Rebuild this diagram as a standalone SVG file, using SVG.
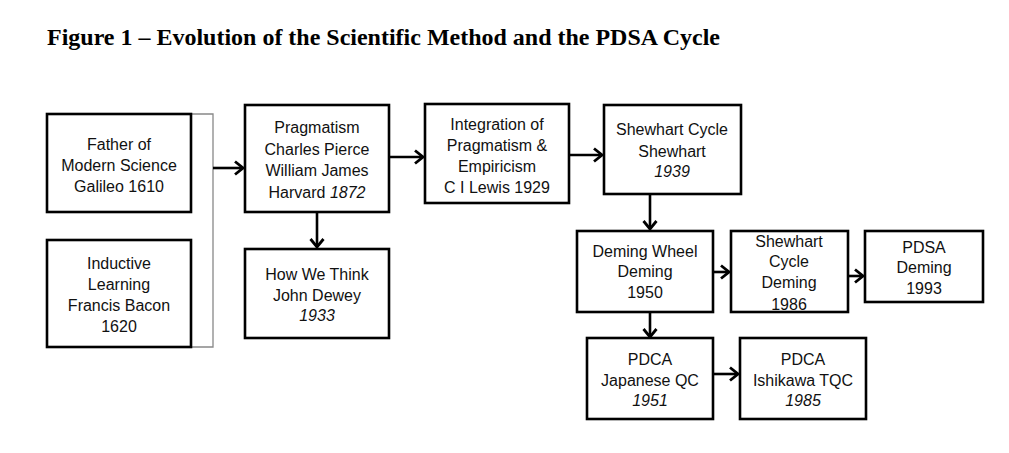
<svg xmlns="http://www.w3.org/2000/svg" width="1009" height="453" viewBox="0 0 1009 453">
<style>
.box{fill:#fff;stroke:#000;stroke-width:2.6}
.t{font-family:"Liberation Sans",Arial,sans-serif;font-size:16px;fill:#111;text-anchor:middle}
.i{font-style:italic}
.title{font-family:"Liberation Serif","Times New Roman",serif;font-weight:bold;font-size:23px;fill:#000}
.c{fill:none;stroke:#000;stroke-width:2.6}
</style>
<defs>
<marker id="ah" markerUnits="userSpaceOnUse" viewBox="0 0 12 16" refX="10" refY="8" markerWidth="12" markerHeight="16" orient="auto">
<path d="M2,1.5 L10,8 L2,14.5" fill="none" stroke="#000" stroke-width="2.8"/>
</marker>
</defs>
<rect width="1009" height="453" fill="#fff"/>
<text class="title" x="47" y="45" textLength="673" lengthAdjust="spacingAndGlyphs">Figure 1 – Evolution of the Scientific Method and the PDSA Cycle</text>

<g id="connectors">
<path d="M191,114 H213 V347 H191" fill="none" stroke="#888" stroke-width="1.3"/>
<line class="c" x1="213" y1="168" x2="243" y2="168" stroke-width="3.2" marker-end="url(#ah)"/>
<line class="c" x1="317" y1="212" x2="317" y2="247" marker-end="url(#ah)"/>
<line class="c" x1="389" y1="157" x2="423" y2="157" marker-end="url(#ah)"/>
<line class="c" x1="569" y1="155" x2="602" y2="155" marker-end="url(#ah)"/>
<line class="c" x1="650" y1="194" x2="650" y2="229" marker-end="url(#ah)"/>
<line class="c" x1="713" y1="272" x2="729" y2="272" marker-end="url(#ah)"/>
<line class="c" x1="848" y1="276" x2="863" y2="276" marker-end="url(#ah)"/>
<line class="c" x1="650" y1="312" x2="650" y2="337" marker-end="url(#ah)"/>
<line class="c" x1="713" y1="374" x2="738" y2="374" marker-end="url(#ah)"/>
</g>

<g id="galileo">
<rect class="box" x="47" y="114" width="144" height="98"/>
<text class="t" x="119" y="150">Father of</text>
<text class="t" x="119" y="171">Modern Science</text>
<text class="t" x="119" y="192">Galileo 1610</text>
</g>
<g id="bacon">
<rect class="box" x="47" y="240" width="144" height="107"/>
<text class="t" x="119" y="269">Inductive</text>
<text class="t" x="119" y="290">Learning</text>
<text class="t" x="119" y="311">Francis Bacon</text>
<text class="t" x="119" y="332">1620</text>
</g>
<g id="pragmatism">
<rect class="box" x="245" y="105" width="144" height="107"/>
<text class="t" x="317" y="133">Pragmatism</text>
<text class="t" x="317" y="155">Charles Pierce</text>
<text class="t" x="317" y="176">William James</text>
<text class="t" x="317" y="198">Harvard <tspan class="i">1872</tspan></text>
</g>
<g id="dewey">
<rect class="box" x="245" y="249" width="144" height="89"/>
<text class="t" x="317" y="280">How We Think</text>
<text class="t" x="317" y="301">John Dewey</text>
<text class="t i" x="317" y="321">1933</text>
</g>
<g id="lewis">
<rect class="box" x="425" y="104" width="144" height="99"/>
<text class="t" x="497" y="130">Integration of</text>
<text class="t" x="497" y="151">Pragmatism &amp;</text>
<text class="t" x="497" y="172">Empiricism</text>
<text class="t" x="497" y="193">C I Lewis 1929</text>
</g>
<g id="shewhart">
<rect class="box" x="604" y="105" width="137" height="89"/>
<text class="t" x="672" y="135">Shewhart Cycle</text>
<text class="t" x="672" y="157">Shewhart</text>
<text class="t i" x="672" y="177">1939</text>
</g>
<g id="deming-wheel">
<rect class="box" x="577" y="231" width="136" height="81"/>
<text class="t" x="645" y="257">Deming Wheel</text>
<text class="t" x="645" y="277">Deming</text>
<text class="t" x="645" y="298">1950</text>
</g>
<g id="shewhart-cycle-deming">
<rect class="box" x="731" y="231" width="117" height="81"/>
<text class="t" x="789" y="247">Shewhart</text>
<text class="t" x="789" y="267">Cycle</text>
<text class="t" x="789" y="288">Deming</text>
<text class="t" x="789" y="310">1986</text>
</g>
<g id="pdsa">
<rect class="box" x="865" y="231" width="118" height="71"/>
<text class="t" x="924" y="253">PDSA</text>
<text class="t" x="924" y="273">Deming</text>
<text class="t" x="924" y="294">1993</text>
</g>
<g id="pdca-japanese">
<rect class="box" x="587" y="338" width="126" height="81"/>
<text class="t" x="650" y="365">PDCA</text>
<text class="t" x="650" y="386">Japanese QC</text>
<text class="t i" x="650" y="406">1951</text>
</g>
<g id="pdca-ishikawa">
<rect class="box" x="740" y="338" width="126" height="81"/>
<text class="t" x="803" y="365">PDCA</text>
<text class="t" x="803" y="386">Ishikawa TQC</text>
<text class="t i" x="803" y="406">1985</text>
</g>
</svg>
